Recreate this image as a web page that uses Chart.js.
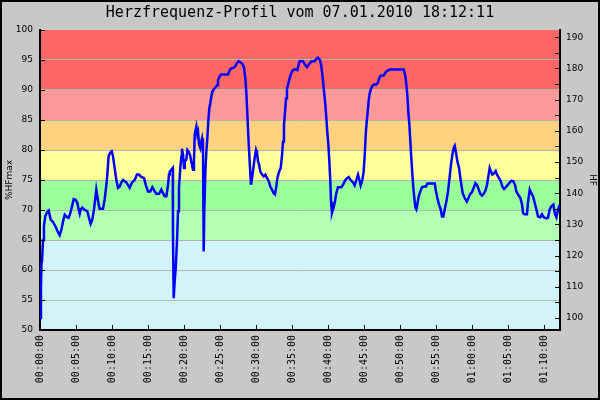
<!DOCTYPE html>
<html><head><meta charset="utf-8">
<script src="https://cdn.jsdelivr.net/npm/chart.js@4"></script>
<style>html,body{margin:0;padding:0;background:#c8c8c8;}canvas{display:block;}</style>
</head><body>
<canvas id="c" width="600" height="400"></canvas>
<script>
const titleText = 'Herzfrequenz-Profil vom 07.01.2010 18:12:11';
const leftAxisTitle = '%HFmax';
const rightAxisTitle = 'HF';

// elapsed time in seconds
const timeSec = [0,8,12,17,25,33,44,61,72,89,108,128,150,164,178,192,206,225,239,253,267,281,297,311,322,331,339,353,372,394,408,422,436,450,461,469,478,489,497,525,539,553,561,572,586,597,608,622,636,650,664,678,692,719,733,747,767,789,808,825,844,867,881,900,919,936,956,969,992,1011,1025,1039,1053,1067,1075,1081,1094,1106,1108,1114,1122,1131,1142,1150,1158,1169,1178,1183,1192,1200,1206,1219,1228,1239,1250,1261,1275,1283,1289,1303,1311,1317,1325,1336,1344,1350,1358,1364,1369,1378,1386,1394,1403,1411,1419,1428,1436,1447,1461,1475,1483,1497,1511,1567,1581,1594,1614,1628,1642,1656,1672,1689,1700,1711,1719,1728,1736,1744,1753,1758,1767,1778,1789,1800,1808,1817,1825,1836,1850,1864,1878,1892,1906,1919,1933,1947,1958,1969,1978,1992,2006,2017,2025,2033,2042,2050,2058,2072,2086,2100,2114,2131,2144,2158,2164,2192,2206,2225,2242,2261,2289,2303,2317,2333,2344,2356,2367,2378,2386,2394,2403,2411,2419,2425,2433,2442,2456,2469,2483,2511,2525,2539,2553,2572,2589,2608,2622,2636,2650,2664,2672,2686,2697,2706,2714,2722,2731,2739,2747,2756,2767,2781,2803,2817,2831,2844,2864,2878,2894,2914,3031,3044,3053,3061,3069,3078,3086,3094,3103,3111,3119,3128,3136,3144,3156,3169,3183,3200,3217,3228,3289,3300,3311,3325,3339,3350,3361,3372,3386,3400,3414,3425,3436,3447,3456,3467,3478,3492,3503,3511,3522,3539,3556,3569,3583,3600,3614,3628,3642,3656,3669,3683,3697,3711,3725,3736,3747,3758,3769,3783,3797,3808,3825,3839,3853,3867,3886,3906,3928,3944,3958,3969,3983,4003,4017,4025,4039,4058,4067,4081,4094,4108,4122,4136,4150,4169,4183,4197,4219,4233,4247,4261,4278,4289,4303,4317,4331];
// heart rate in % of HFmax
const hfPercent = [52,57,61,61.5,65,67.3,69,69.7,69.9,68.4,68.0,67.3,66.3,65.8,66.7,68.1,69.2,68.8,68.7,69.5,70.6,71.8,71.7,71.2,70.1,69.4,70.1,70.4,70,69.8,68.7,67.7,68.4,70.1,72,73.4,72.3,70.9,70.2,70.2,71.8,74.2,75.9,79,79.6,79.8,79,77,75,73.7,73.9,74.6,75,74.6,74.2,73.7,74.6,75,75.9,75.9,75.5,75.3,74.2,73.1,73.1,73.8,73.1,72.7,72.7,73.4,72.8,72.3,72.3,74.2,75.9,76.4,76.7,77,66.2,55.3,58,60.3,65,69.8,73.7,77,78.9,80.2,79.2,77,78.1,78.4,80,79.7,79.2,78.1,76.7,78.1,82.6,83.9,82.6,83,80.9,80.3,81.4,81.9,80.3,63.1,69.8,76.4,79.7,81.9,85,87,87.8,88.9,89.7,90.1,90.4,90.8,91.6,92.3,92.6,92.6,93.3,93.6,93.7,94,94.5,94.8,94.6,94.3,93.7,92,89.7,85.9,82.3,79.2,75.9,74.2,75.3,77,78.7,80,79.5,78.1,77.6,76.4,75.9,75.6,75.9,75.3,74.8,73.9,73.4,72.8,72.6,73.9,75.3,76.4,77,79.2,81.4,84.2,86.4,88.6,90.2,91.3,92.4,93.1,93.4,93.4,93.3,94.4,94.8,94.8,94.3,93.8,94.3,94.8,94.8,95.2,95.4,95,94,92,89.7,87.5,85.3,83,80.9,78.1,74.8,71.4,69.5,70.1,71.2,72.8,73.8,73.8,74.2,74.8,75.2,75.5,75,74.6,74.1,75,75.9,74.8,74.1,75,76.4,79.2,82.5,84.7,86.4,88.3,89.4,90.1,90.6,90.9,90.9,91.3,92.2,92.4,92.4,92.9,93.2,93.4,93.4,92.4,90.8,89.1,86.4,84.2,81.4,78.7,75.9,73.7,72,70.4,70.1,70.9,72.3,73.1,73.8,73.9,73.9,74.4,74.4,73.1,72,70.9,70.1,68.9,68.9,70.1,71.4,73.1,75.6,77.6,79.2,80.3,80.7,79.5,78.1,77,75.3,74.2,72.8,72,71.4,71.9,72.6,73,73.7,74.5,74.2,73.4,72.7,72.4,72.7,73.2,74.2,75.6,77,76.4,75.9,76.1,76.5,75.9,75.3,74.8,73.9,73.5,73.9,74.4,74.9,74.8,74.2,73.1,72.6,72,70.9,69.5,69.3,69.3,71.4,73.4,72.8,72.3,71.2,70.1,68.9,68.8,69.3,68.8,68.6,68.7,70.1,70.6,70.9,69.5,68.8,70.1,70.9];

const xTickStep = 300;          // 5 minutes
const xMaxSec = 4333;
const pctMin = 50, pctMax = 100, pctStep = 5;
const hfMax = 192.3;            // 100 % HFmax in bpm
const hfTickValues = [100,110,120,130,140,150,160,170,180,190];
const hfMinorTickValues = [105,115,125,135,145,155,165,175,185];
const zoneLimits = [50,65,70,75,80,85,90,100];
const zoneColors = ['#d2f4f8','#b3ffb3','#99ff99','#ffff99','#ffd280','#ff9999','#ff6666'];

function fmtTime(v){
  const h = Math.floor(v/3600), m = Math.floor((v%3600)/60), s = Math.round(v%60);
  const p = n => String(n).padStart(2,'0');
  return p(h)+':'+p(m)+':'+p(s);
}

const decoPlugin = {
  id:'deco',
  beforeDraw(chart){
    const {ctx, chartArea:a, scales:{y}} = chart;
    ctx.save();
    ctx.fillStyle='#c8c8c8';
    ctx.fillRect(0,0,chart.width,chart.height);
    for(let i=0;i<zoneColors.length;i++){
      const yb=y.getPixelForValue(zoneLimits[i]), yt=y.getPixelForValue(zoneLimits[i+1]);
      ctx.fillStyle=zoneColors[i];
      ctx.fillRect(a.left, yt, a.right-a.left, yb-yt);
    }
    ctx.restore();
  },
  afterDraw(chart){
    const {ctx, chartArea:a, scales:{x,y,y2}} = chart;
    ctx.save();
    ctx.strokeStyle='#000'; ctx.lineWidth=1;
    ctx.beginPath();
    y.ticks.forEach(t=>{const p=Math.round(y.getPixelForValue(t.value))+0.5; ctx.moveTo(a.left,p); ctx.lineTo(a.left+5,p);});
    hfTickValues.concat(hfMinorTickValues).forEach(v=>{const p=Math.round(y2.getPixelForValue(v))+0.5; ctx.moveTo(a.right-5,p); ctx.lineTo(a.right,p);});
    x.ticks.forEach(t=>{const p=Math.round(x.getPixelForValue(t.value))+0.5; ctx.moveTo(p,a.bottom); ctx.lineTo(p,a.bottom-5);});
    ctx.stroke();
    ctx.lineWidth=2;
    ctx.strokeRect(1,1,chart.width-2,chart.height-2);
    ctx.restore();
  }
};

new Chart(document.getElementById('c'), {
  type:'line',
  data:{datasets:[{
    data: timeSec.map((t,i)=>({x:t, y:hfPercent[i]})),
    borderColor:'#0000ff', borderWidth:2.5, pointRadius:0, tension:0, fill:false
  }]},
  options:{
    responsive:false, animation:false, devicePixelRatio:1,
    layout:{padding:0},
    plugins:{
      legend:{display:false}, tooltip:{enabled:false},
      title:{display:true, text:titleText, color:'#000',
        font:{family:'DejaVu Sans Mono', size:15, weight:'normal'}, padding:{top:4,bottom:8}}
    },
    scales:{
      x:{type:'linear', min:0, max:xMaxSec,
        afterFit(s){s.height=70;},
        grid:{drawOnChartArea:false, drawTicks:false},
        border:{color:'#000', width:2},
        ticks:{stepSize:xTickStep, includeBounds:false, autoSkip:false, maxRotation:90, minRotation:90,
          padding:5, color:'#000', font:{family:'DejaVu Sans Mono', size:10}, callback:v=>fmtTime(v)}
      },
      y:{position:'left', min:pctMin, max:pctMax,
        afterFit(s){s.width=40;},
        grid:{color:c=>(c.tick.value===pctMin||c.tick.value===pctMax)?'rgba(0,0,0,0)':'#b4b4b4', drawTicks:false, lineWidth:1},
        border:{color:'#000', width:2},
        ticks:{stepSize:pctStep, padding:7, color:'#000', font:{family:'DejaVu Sans', size:9}},
        title:{display:true, text:leftAxisTitle, color:'#000', font:{family:'DejaVu Sans', size:9}, padding:{top:4,bottom:0}}
      },
      y2:{position:'right', min:hfMax*0.5, max:hfMax,
        afterBuildTicks(s){s.ticks=hfTickValues.map(v=>({value:v}));},
        afterFit(s){s.width=40;},
        grid:{drawOnChartArea:false, drawTicks:false},
        border:{color:'#000', width:2},
        ticks:{padding:6, color:'#000', font:{family:'DejaVu Sans', size:9}},
        title:{display:true, text:rightAxisTitle, color:'#000', font:{family:'DejaVu Sans', size:9}, padding:{top:2,bottom:0}}
      }
    }
  },
  plugins:[decoPlugin]
});
</script>
</body></html>
